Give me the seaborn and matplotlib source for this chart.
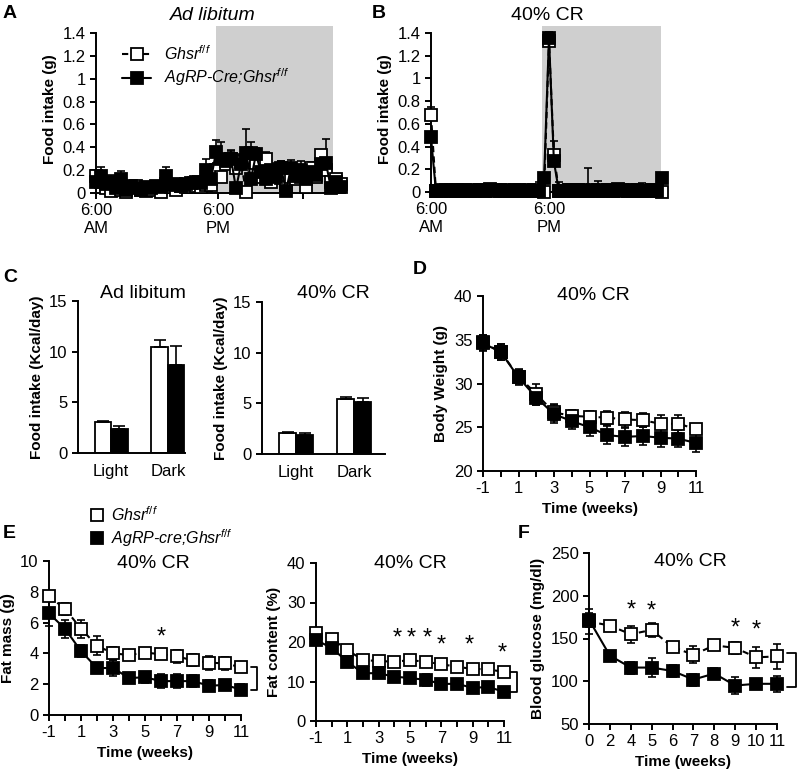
import numpy as np
import pandas as pd
import matplotlib
matplotlib.use("Agg")
import matplotlib.pyplot as plt
import seaborn as sns
from matplotlib.lines import Line2D

# ---- data -------------------------------------------------------------
# A: ad libitum food intake, every 30 min from 6:00 AM
a_hours = [i * 0.5 for i in range(50)]
a_ctrl = [0.15, 0.10, 0.04, 0.02, 0.08, 0.03, 0.01, 0.05, 0.06, 0.03, 0.02, 0.03,
          0.05, 0.01, 0.08, 0.05, 0.03, 0.06, 0.05, 0.07, 0.06, 0.05, 0.07, 0.07,
          0.20, 0.14, 0.25, 0.30, 0.22, 0.27, 0.01, 0.35, 0.26, 0.14, 0.30, 0.10,
          0.16, 0.13, 0.05, 0.14, 0.12, 0.14, 0.05, 0.22, 0.14, 0.33, 0.20, 0.10,
          0.12, 0.08]
a_ctrl_err = [0.04, 0.04, 0.03, 0.02, 0.04, 0.03, 0.02, 0.03, 0.03, 0.03, 0.02, 0.03,
              0.03, 0.02, 0.05, 0.03, 0.03, 0.04, 0.03, 0.04, 0.04, 0.03, 0.05, 0.05,
              0.06, 0.08, 0.08, 0.07, 0.06, 0.07, 0.02, 0.10, 0.06, 0.05, 0.06, 0.05,
              0.05, 0.15, 0.04, 0.05, 0.05, 0.05, 0.04, 0.05, 0.05, 0.04, 0.06, 0.04,
              0.05, 0.04]
a_ko = [0.10, 0.15, 0.08, 0.10, 0.04, 0.12, 0.03, 0.06, 0.04, 0.03, 0.05, 0.04,
        0.06, 0.05, 0.15, 0.07, 0.08, 0.06, 0.08, 0.09, 0.10, 0.09, 0.20, 0.12,
        0.36, 0.30, 0.28, 0.30, 0.04, 0.25, 0.35, 0.12, 0.34, 0.18, 0.12, 0.20,
        0.14, 0.22, 0.02, 0.22, 0.15, 0.20, 0.12, 0.18, 0.16, 0.25, 0.26, 0.04,
        0.10, 0.05]
a_ko_err = [0.06, 0.08, 0.05, 0.06, 0.03, 0.07, 0.02, 0.03, 0.03, 0.02, 0.03, 0.03,
            0.04, 0.03, 0.08, 0.04, 0.04, 0.03, 0.04, 0.05, 0.05, 0.04, 0.10, 0.05,
            0.10, 0.15, 0.06, 0.08, 0.03, 0.08, 0.21, 0.05, 0.05, 0.06, 0.05, 0.06,
            0.06, 0.06, 0.02, 0.07, 0.05, 0.08, 0.05, 0.06, 0.05, 0.06, 0.21, 0.03,
            0.05, 0.03]

# B: 40% CR food intake, every 30 min from 6:00 AM
b_hours = [i * 0.5 for i in range(48)]
b_ctrl = [0.68, 0.01, 0.01, 0.02, 0.01, 0.02, 0.01, 0.01, 0.02, 0.01, 0.02, 0.01,
          0.02, 0.01, 0.02, 0.01, 0.01, 0.02, 0.01, 0.01, 0.02, 0.01, 0.01, 0.00,
          1.33, 0.33, 0.01, 0.01, 0.02, 0.01, 0.01, 0.02, 0.01, 0.01, 0.02, 0.01,
          0.02, 0.01, 0.01, 0.02, 0.01, 0.01, 0.02, 0.01, 0.01, 0.02, 0.01, 0.00]
b_ctrl_err = [0.07, 0.04, 0.05, 0.03, 0.04, 0.03, 0.06, 0.03, 0.02, 0.03, 0.05, 0.03,
              0.02, 0.03, 0.03, 0.02, 0.02, 0.03, 0.02, 0.03, 0.04, 0.05, 0.08, 0.00,
              0.05, 0.12, 0.08, 0.04, 0.05, 0.04, 0.03, 0.03, 0.20, 0.03, 0.08, 0.05,
              0.02, 0.03, 0.03, 0.02, 0.03, 0.02, 0.03, 0.07, 0.05, 0.04, 0.05, 0.00]
b_ko = [0.48, 0.01, 0.02, 0.01, 0.02, 0.01, 0.01, 0.02, 0.01, 0.01, 0.02, 0.01,
        0.03, 0.02, 0.01, 0.02, 0.01, 0.01, 0.02, 0.01, 0.01, 0.02, 0.01, 0.12,
        1.36, 0.27, 0.01, 0.01, 0.02, 0.01, 0.02, 0.01, 0.01, 0.02, 0.01, 0.01,
        0.02, 0.01, 0.03, 0.02, 0.01, 0.01, 0.02, 0.01, 0.01, 0.02, 0.01, 0.12]
b_ko_err = [0.05, 0.04, 0.03, 0.02, 0.03, 0.02, 0.03, 0.02, 0.02, 0.03, 0.02, 0.02,
            0.04, 0.02, 0.02, 0.03, 0.02, 0.02, 0.03, 0.02, 0.02, 0.03, 0.02, 0.03,
            0.05, 0.10, 0.05, 0.03, 0.04, 0.03, 0.05, 0.03, 0.02, 0.03, 0.02, 0.02,
            0.03, 0.02, 0.03, 0.02, 0.02, 0.02, 0.03, 0.02, 0.02, 0.03, 0.02, 0.00]

# C: food intake per phase (Kcal/day)
c_phase = ["Light", "Dark"]
c_adlib_ctrl = [3.1, 10.5]
c_adlib_ctrl_err = [0.05, 0.7]
c_adlib_ko = [2.4, 8.7]
c_adlib_ko_err = [0.3, 1.9]
c_cr_ctrl = [2.1, 5.4]
c_cr_ctrl_err = [0.1, 0.2]
c_cr_ko = [1.9, 5.1]
c_cr_ko_err = [0.2, 0.45]

# D-E: weekly measurements
weeks = [-1, 0, 1, 2, 3, 4, 5, 6, 7, 8, 9, 10, 11]
bw_ctrl = [34.7, 33.6, 30.8, 28.8, 26.7, 26.3, 26.2, 26.1, 25.9, 25.8, 25.4, 25.4, 24.8]
bw_ctrl_err = [0.9, 0.9, 0.9, 1.2, 1.0, 0.7, 0.7, 0.8, 0.9, 0.8, 1.0, 1.0, 0.4]
bw_ko = [34.6, 33.6, 30.7, 28.4, 26.5, 25.7, 25.0, 24.1, 23.9, 24.0, 23.8, 23.7, 23.2]
bw_ko_err = [0.9, 0.9, 0.9, 0.9, 1.0, 0.9, 1.0, 1.0, 1.0, 1.0, 1.0, 1.0, 1.0]

fm_ctrl = [7.7, 6.9, 5.6, 4.5, 4.0, 3.9, 4.05, 3.95, 3.8, 3.55, 3.4, 3.35, 3.1]
fm_ctrl_err = [0.3, 0.4, 0.6, 0.6, 0.4, 0.25, 0.3, 0.3, 0.4, 0.4, 0.45, 0.4, 0.15]
fm_ko = [6.6, 5.6, 4.15, 3.05, 3.05, 2.4, 2.45, 2.2, 2.2, 2.2, 1.9, 1.95, 1.65]
fm_ko_err = [0.8, 0.6, 0.4, 0.35, 0.5, 0.3, 0.35, 0.45, 0.45, 0.4, 0.35, 0.2, 0.35]
fm_stars = [6]
fm_star_y = [5.0]

fc_ctrl = [22.3, 20.8, 18.0, 15.4, 15.2, 15.0, 15.4, 15.0, 14.4, 13.7, 13.2, 13.1, 12.4]
fc_ctrl_err = [1.0, 0.9, 1.2, 1.3, 1.0, 0.9, 0.8, 0.9, 0.9, 0.8, 0.8, 0.7, 0.6]
fc_ko = [20.5, 18.5, 15.0, 12.1, 12.1, 11.2, 10.9, 10.4, 9.4, 9.4, 8.4, 8.6, 7.4]
fc_ko_err = [1.0, 1.0, 1.0, 1.0, 1.0, 1.2, 1.3, 1.5, 1.3, 1.0, 0.9, 0.7, 0.8]
fc_stars = [4.2, 5.1, 6.1, 7, 8.8, 10.9]
fc_star_y = [21, 21, 21, 19, 19, 17]

# F: blood glucose
bg_weeks = ["0", "2", "4", "5", "6", "7", "8", "9", "10", "11"]
bg_ctrl = [170, 165, 155, 160, 140, 131, 142, 139, 128, 129]
bg_ctrl_err = [15, 5, 10, 8, 4, 10, 4, 7, 12, 15]
bg_ko = [172, 130, 116, 116, 112, 102, 109, 95, 97, 97]
bg_ko_err = [8, 3, 7, 11, 7, 7, 6, 10, 4, 9]
bg_stars = ["4", "5", "9", "10"]
bg_star_y = [183, 181, 162, 159]

# ---- style ------------------------------------------------------------
sns.set_style("ticks", {"axes.edgecolor": "black", "xtick.color": "black",
                        "ytick.color": "black", "text.color": "black",
                        "axes.labelcolor": "black"})
plt.rcParams["font.family"] = ["Liberation Sans", "DejaVu Sans"]
plt.rcParams["mathtext.fontset"] = "custom"
plt.rcParams["mathtext.it"] = "Liberation Sans:italic"
plt.rcParams["mathtext.rm"] = "Liberation Sans"
plt.rcParams["axes.linewidth"] = 1.4
plt.rcParams["xtick.major.width"] = 1.4
plt.rcParams["ytick.major.width"] = 1.4
plt.rcParams["xtick.major.size"] = 4
plt.rcParams["ytick.major.size"] = 4
plt.rcParams["xtick.labelsize"] = 12
plt.rcParams["ytick.labelsize"] = 12
plt.rcParams["font.size"] = 12

W, H = 800, 778
fig = plt.figure(figsize=(8, 7.78), dpi=100)


def rect(x0, y0, x1, y1):
    return [x0 / W, 1 - y1 / H, (x1 - x0) / W, (y1 - y0) / H]


def series(ax, x, y, err, filled, both=True, ms=8):
    lo = err if both else np.zeros(len(err))
    ax.errorbar(x, y, yerr=[lo, err], fmt="none", ecolor="black", elinewidth=1.2,
                capsize=3.2, capthick=1.2, clip_on=False, zorder=2)
    sns.lineplot(x=x, y=y, ax=ax, color="black", errorbar=None,
                 linestyle="-" if filled else (0, (3, 2)), linewidth=1.5,
                 marker="s", markersize=ms,
                 markerfacecolor="black" if filled else "white",
                 markeredgecolor="black", markeredgewidth=1.3,
                 clip_on=False, zorder=4 if filled else 3)
    ax.set_xlabel("")
    ax.set_ylabel("")


def bracket(ax, x0, x1, y0, y1):
    ax.plot([x0, x1, x1, x0], [y0, y0, y1, y1], color="black", lw=1.3, clip_on=False)


def stars(ax, xs, ys):
    for x, y in zip(xs, ys):
        ax.text(x, y, "*", ha="center", va="center", fontsize=17)


lab_ctrl = "Ghsr$^{f/f}$"
bold = dict(fontweight="bold", fontsize=11)
title_kw = dict(ha="center", va="center", fontsize=14)

# ---- A ------------------------------------------------------------------
axA = fig.add_axes(rect(96, 26, 345, 193))
axA.axvspan(12.0, 23.7, color="#cfcfcf", lw=0, zorder=0)
series(axA, a_hours, a_ctrl, a_ctrl_err, False, both=False)
series(axA, a_hours, a_ko, a_ko_err, True, both=False)
axA.set_xlim(0, 24.9)
axA.set_ylim(0, 1.461)
axA.spines["left"].set_bounds(0, 1.4)
axA.set_yticks([0, 0.2, 0.4, 0.6, 0.8, 1.0, 1.2, 1.4])
axA.set_yticklabels(["0", "0.2", "0.4", "0.6", "0.8", "1", "1.2", "1.4"])
axA.set_xticks([0, 12.2, 20.7])
axA.set_xticklabels(["6:00\nAM", "6:00\nPM", ""])
axA.set_ylabel("Food intake (g)", **bold)
sns.despine(ax=axA)
fig.text(213 / W, 1 - 15 / H, "Ad libitum", style="italic", **title_kw)
handles = [Line2D([], [], color="black", ls=(0, (3, 2)), lw=1.5, marker="s", ms=9,
                  mfc="white", mec="black", mew=1.3),
           Line2D([], [], color="black", ls="-", lw=1.5, marker="s", ms=9,
                  mfc="black", mec="black", mew=1.3)]
axA.legend(handles, [lab_ctrl, "AgRP-Cre;Ghsr$^{f/f}$"], loc="upper left",
           bbox_to_anchor=(0.08, 0.93), frameon=False, handlelength=1.8,
           prop=dict(style="italic", size=11.5), borderaxespad=0, labelspacing=0.25)

# ---- B ------------------------------------------------------------------
axB = fig.add_axes(rect(431, 26, 665, 192))
axB.axvspan(11.3, 23.4, color="#cfcfcf", lw=0, zorder=0)
series(axB, b_hours, b_ctrl, b_ctrl_err, False, both=False)
series(axB, b_hours, b_ko, b_ko_err, True, both=False)
axB.set_xlim(0, 23.8)
axB.set_ylim(0, 1.462)
axB.spines["left"].set_bounds(0, 1.4)
axB.set_yticks([0, 0.2, 0.4, 0.6, 0.8, 1.0, 1.2, 1.4])
axB.set_yticklabels(["0", "0.2", "0.4", "0.6", "0.8", "1", "1.2", "1.4"])
axB.set_xticks([0, 12])
axB.set_xticklabels(["6:00\nAM", "6:00\nPM"])
axB.set_ylabel("Food intake (g)", **bold)
sns.despine(ax=axB)
fig.text(547 / W, 1 - 15 / H, "40% CR", **title_kw)

# ---- C ------------------------------------------------------------------
def bars(ax, ctrl, ctrl_err, ko, ko_err):
    df = pd.DataFrame({"phase": c_phase * 2,
                       "geno": ["ctrl"] * 2 + ["ko"] * 2,
                       "val": ctrl + ko})
    sns.barplot(df, x="phase", y="val", hue="geno", palette=["white", "black"],
                edgecolor="black", linewidth=1.3, width=0.58, gap=0,
                errorbar=None, legend=False, ax=ax)
    for cont, errs in zip(ax.containers, [ctrl_err, ko_err]):
        for bar, e in zip(cont, errs):
            ax.errorbar(bar.get_x() + bar.get_width() / 2, bar.get_height(),
                        yerr=[[0], [e]], fmt="none", ecolor="black",
                        elinewidth=1.2, capsize=4, capthick=1.2)
    ax.set_ylim(0, 15)
    ax.set_yticks([0, 5, 10, 15])
    ax.tick_params(axis="x", length=0, pad=8)
    ax.set_xlabel("")
    ax.set_ylabel("Food intake (Kcal/day)", **bold)
    sns.despine(ax=ax)


axC1 = fig.add_axes(rect(78, 301, 185, 453))
bars(axC1, c_adlib_ctrl, c_adlib_ctrl_err, c_adlib_ko, c_adlib_ko_err)
axC1.set_xlim(-0.58, 1.3)
fig.text(143 / W, 1 - 293 / H, "Ad libitum", **title_kw)

axC2 = fig.add_axes(rect(262, 302, 385, 454))
bars(axC2, c_cr_ctrl, c_cr_ctrl_err, c_cr_ko, c_cr_ko_err)
axC2.set_xlim(-0.59, 1.53)
fig.text(333 / W, 1 - 293 / H, "40% CR", **title_kw)

leg_handles = [Line2D([], [], ls="none", marker="s", ms=9, mfc="white", mec="black", mew=1.3),
               Line2D([], [], ls="none", marker="s", ms=9, mfc="black", mec="black", mew=1.3)]
fig.legend(leg_handles, [lab_ctrl, "AgRP-cre;Ghsr$^{f/f}$"], loc="upper left",
           bbox_to_anchor=(84 / W, 1 - 499 / H), frameon=False, handlelength=0.8,
           handletextpad=0.5, prop=dict(style="italic", size=11.5),
           borderaxespad=0, labelspacing=0.2)

# ---- D ------------------------------------------------------------------
axD = fig.add_axes(rect(483, 296, 696, 471))
series(axD, weeks, bw_ctrl, bw_ctrl_err, False)
series(axD, weeks, bw_ko, bw_ko_err, True)
axD.set_xlim(-1, 11)
axD.set_ylim(20, 40)
axD.set_yticks([20, 25, 30, 35, 40])
axD.set_xticks(weeks)
axD.set_xticklabels([str(w) if w % 2 else "" for w in weeks])
axD.set_ylabel("Body Weight (g)", **bold)
axD.set_xlabel("Time (weeks)", **bold)
sns.despine(ax=axD)
fig.text(593 / W, 1 - 295 / H, "40% CR", **title_kw)

# ---- E ------------------------------------------------------------------
axE1 = fig.add_axes(rect(49, 561, 241, 715))
series(axE1, weeks, fm_ctrl, fm_ctrl_err, False)
series(axE1, weeks, fm_ko, fm_ko_err, True)
axE1.set_xlim(-1, 11)
axE1.set_ylim(0, 10)
axE1.set_yticks([0, 2, 4, 6, 8, 10])
axE1.set_xticks(weeks)
axE1.set_xticklabels([str(w) if w % 2 else "" for w in weeks])
axE1.set_ylabel("Fat mass (g)", **bold)
axE1.set_xlabel("Time (weeks)", **bold)
sns.despine(ax=axE1)
stars(axE1, fm_stars, fm_star_y)
bracket(axE1, 11.6, 12.0, fm_ctrl[-1], fm_ko[-1])
fig.text(153 / W, 1 - 563 / H, "40% CR", **title_kw)

axE2 = fig.add_axes(rect(316, 563, 504, 721))
series(axE2, weeks, fc_ctrl, fc_ctrl_err, False)
series(axE2, weeks, fc_ko, fc_ko_err, True)
axE2.set_xlim(-1, 11)
axE2.set_ylim(0, 40)
axE2.set_yticks([0, 10, 20, 30, 40])
axE2.set_xticks(weeks)
axE2.set_xticklabels([str(w) if w % 2 else "" for w in weeks])
axE2.set_ylabel("Fat content (%)", **bold)
axE2.set_xlabel("Time (weeks)", **bold)
sns.despine(ax=axE2)
stars(axE2, fc_stars, fc_star_y)
bracket(axE2, 11.4, 11.85, fc_ctrl[-1], fc_ko[-1])
fig.text(410 / W, 1 - 563 / H, "40% CR", **title_kw)

# ---- F ------------------------------------------------------------------
axF = fig.add_axes(rect(589, 553, 777, 724))
pos = list(range(len(bg_weeks)))
series(axF, pos, bg_ctrl, bg_ctrl_err, False)
series(axF, pos, bg_ko, bg_ko_err, True)
axF.set_xlim(0, 9)
axF.set_ylim(50, 250)
axF.set_yticks([50, 100, 150, 200, 250])
axF.set_xticks(pos)
axF.set_xticklabels(bg_weeks)
axF.set_ylabel("Blood glucose (mg/dl)", **bold)
axF.set_xlabel("Time (weeks)", **bold)
sns.despine(ax=axF)
stars(axF, [bg_weeks.index(s) for s in bg_stars], bg_star_y)
bracket(axF, 9.5, 9.9, 133, 93)
fig.text(690 / W, 1 - 562 / H, "40% CR", **title_kw)

# ---- panel letters --------------------------------------------------------
for letter, x, y in [("A", 3, 13), ("B", 372, 13), ("C", 3, 277),
                     ("D", 413, 269), ("E", 3, 533), ("F", 518, 533)]:
    fig.text(x / W, 1 - y / H, letter, ha="left", va="center",
             fontsize=14, fontweight="bold")

fig.savefig("out.png", dpi=100)
